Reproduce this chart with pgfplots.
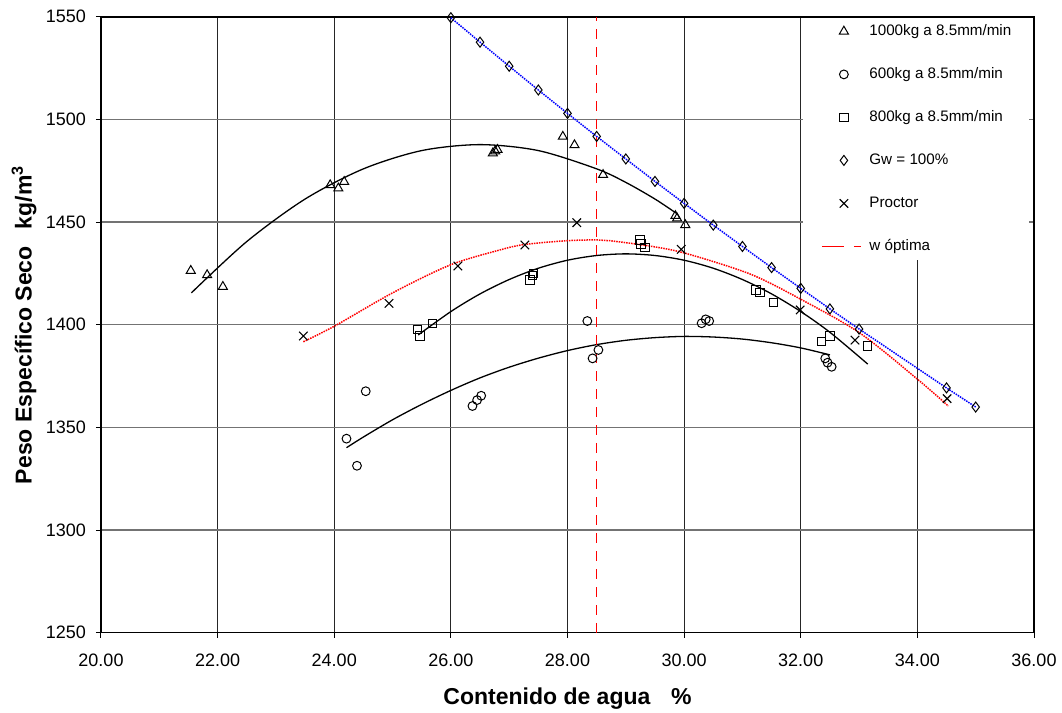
\documentclass[border=0pt]{standalone}
\usepackage{pgfplots}
\pgfplotsset{compat=1.18}
\usepackage{fontspec}
\setmainfont{Liberation Sans}
\begin{document}
\begin{tikzpicture}
\useasboundingbox (0,0) rectangle (531pt,356.5pt);
\begin{axis}[
  at={(50.5pt,40.15pt)}, anchor=south west,
  scale only axis, width=466.5pt, height=308pt,
  xmin=20, xmax=36, ymin=1250, ymax=1550,
  xtick={20,22,...,36}, ytick={1250,1300,...,1550},
  grid=major,
  x grid style={black!85, line width=0.45pt},
  y grid style={black!55, line width=0.6pt},
  axis line style={black, line width=0.8pt},
  tick align=outside, xtick pos=bottom, ytick pos=left,
  major tick length=2.5pt,
  tick style={black, line width=0.5pt},
  /pgf/number format/assume math mode=true,
  x tick label style={/pgf/number format/.cd, fixed, fixed zerofill, precision=2, /tikz/.cd, font=\fontsize{9}{10}\selectfont, yshift=-4.5pt},
  y tick label style={/pgf/number format/.cd, fixed, 1000 sep={}, /tikz/.cd, font=\fontsize{9}{10}\selectfont, xshift=-1.5pt},
  xlabel={Contenido de agua\hspace{0.9em}\%},
  ylabel={Peso Específico Seco\hspace{0.75em}kg/m\textsuperscript{3}},
  xlabel style={at={(axis description cs:0.5,-0.1169)}, anchor=base, font=\fontsize{11.5}{13}\selectfont\bfseries},
  ylabel style={at={(axis description cs:-0.0744,0.5)}, anchor=base, font=\fontsize{11.5}{13}\selectfont\bfseries},
  legend cell align=left,
  legend style={at={(axis description cs:0.7524,0.9987)}, anchor=north west, draw=none, fill=white,
    font=\fontsize{7.6}{9}\selectfont, inner xsep=9pt, inner ysep=3pt, row sep=14pt,
    nodes={inner sep=0pt, text height=6pt, text depth=1.5pt},
    /tikz/every odd column/.append style={column sep=4pt}},
  legend image code/.code={\path[draw=none,fill=none] (0pt,-2pt) rectangle (19.5pt,2pt); \draw[mark repeat=2,mark phase=2,#1] plot coordinates {(0pt,0pt)(11pt,0pt)(19.5pt,0pt)};},
]
% trend curves
\addplot[black, line width=0.65pt, smooth, forget plot] coordinates {
(21.55,1415.5)(22.5,1440.5)(23.5,1461.2)(24.5,1475.9)(25.5,1484.8)(26.5,1487.7)(27.5,1484.8)(28.5,1475.9)(29.0,1469.3)(29.5,1461.2)(29.87,1454.2)};
\addplot[black, line width=0.65pt, smooth, forget plot] coordinates {
(25.44,1395.0)(26.0,1406.4)(26.5,1415.0)(27.0,1422.0)(27.5,1427.5)(28.0,1431.4)(28.5,1433.7)(29.0,1434.5)(29.5,1433.7)(30.0,1431.4)(30.5,1427.5)(31.0,1422.0)(31.5,1415.0)(32.0,1406.4)(32.5,1396.3)(33.15,1380.8)};
\addplot[black, line width=0.65pt, smooth, forget plot] coordinates {
(24.21,1340.1)(24.5,1345.3)(25.0,1353.7)(25.5,1361.2)(26.0,1368.0)(26.5,1374.1)(27.0,1379.3)(27.5,1383.7)(28.0,1387.4)(28.5,1390.3)(29.0,1392.4)(29.5,1393.7)(30.0,1394.3)(30.5,1394.0)(31.0,1393.0)(31.5,1391.2)(32.0,1388.7)(32.5,1385.3)};
\addplot[red, line width=0.75pt, dash pattern=on 0.75pt off 0.5pt, smooth, forget plot] coordinates {
(23.47,1391.7)(24.01,1399.4)(25.0,1415.5)(25.99,1429.1)(26.84,1436.4)(27.27,1439.1)(27.99,1440.9)(28.5,1441.3)(28.73,1440.9)(29.41,1438.3)(30.02,1434.8)(31.13,1424.7)(32.0,1412.4)(33.02,1395.8)(34.02,1373.0)(34.53,1360.4)};
% data
\addplot[only marks, mark=triangle, mark size=2.6pt, mark options={black, line width=0.5pt}] coordinates {
(21.54,1426.3)(21.82,1424.2)(22.09,1418.5)(23.93,1468.0)(24.07,1466.4)(24.17,1469.6)(26.72,1483.5)(26.76,1484.5)(26.80,1485.2)(27.92,1491.6)(28.12,1487.5)(28.61,1473.0)(29.85,1453.0)(29.88,1451.8)(30.02,1448.6)};
\addlegendentry{1000kg a 8.5mm/min}
\addplot[only marks, mark=o, mark size=2.2pt, mark options={black, line width=0.5pt}] coordinates {
(24.21,1344.5)(24.39,1331.3)(24.54,1367.6)(26.37,1360.4)(26.45,1363.3)(26.52,1365.4)(28.34,1401.8)(28.43,1383.6)(28.53,1387.7)(30.30,1400.7)(30.37,1402.6)(30.43,1401.8)(32.42,1383.6)(32.46,1381.5)(32.53,1379.5)};
\addlegendentry{600kg a 8.5mm/min}
\addplot[only marks, mark=square, mark size=2.1pt, mark options={black, line width=0.5pt}] coordinates {
(25.43,1397.8)(25.47,1394.5)(25.68,1400.7)(27.36,1421.8)(27.40,1424.0)(27.42,1425.0)(29.24,1441.2)(29.26,1439.3)(29.33,1437.7)(31.23,1416.9)(31.30,1415.6)(31.53,1410.7)(32.36,1391.7)(32.50,1394.5)(33.14,1389.6)};
\addlegendentry{800kg a 8.5mm/min}
\addplot[blue, line width=0.75pt, dash pattern=on 0.75pt off 0.5pt, mark=diamond, mark size=2.5pt, mark options={black, solid, line width=0.5pt},
  legend image code/.code={\path[draw=none,fill=none] (0pt,-2pt) rectangle (19.5pt,2pt); \draw[black, solid, line width=0.5pt, mark=diamond, mark size=2.5pt, only marks] plot coordinates {(11pt,0pt)};}] coordinates {
(26.0,1549.5)(26.5,1537.6)(27.0,1525.9)(27.5,1514.3)(28.0,1502.9)(28.5,1491.7)(29.0,1480.7)(29.5,1469.8)(30.0,1459.1)(30.5,1448.5)(31.0,1438.1)(31.5,1427.8)(32.0,1417.7)(32.5,1407.7)(33.0,1397.9)(34.5,1369.2)(35.0,1359.9)};
\addlegendentry{Gw = 100\%}
\addplot[only marks, mark=x, mark size=3pt, mark options={black, line width=0.55pt}] coordinates {
(23.47,1394.5)(24.94,1410.4)(26.12,1428.6)(27.27,1438.8)(28.16,1449.7)(29.95,1436.7)(31.99,1407.2)(32.93,1392.5)(34.51,1364.0)};
\addlegendentry{Proctor}
\addplot[red, line width=0.5pt, dash pattern=on 5pt off 4pt,
  legend image code/.code={\path[draw=none,fill=none] (0pt,-2pt) rectangle (19.5pt,2pt); \draw[red, line width=0.5pt, dash pattern=on 11pt off 5pt] (0pt,0pt) -- (19.5pt,0pt);}] coordinates {(28.5,1250)(28.5,1550)};
\addlegendentry{w óptima}
\end{axis}
\end{tikzpicture}
\end{document}
